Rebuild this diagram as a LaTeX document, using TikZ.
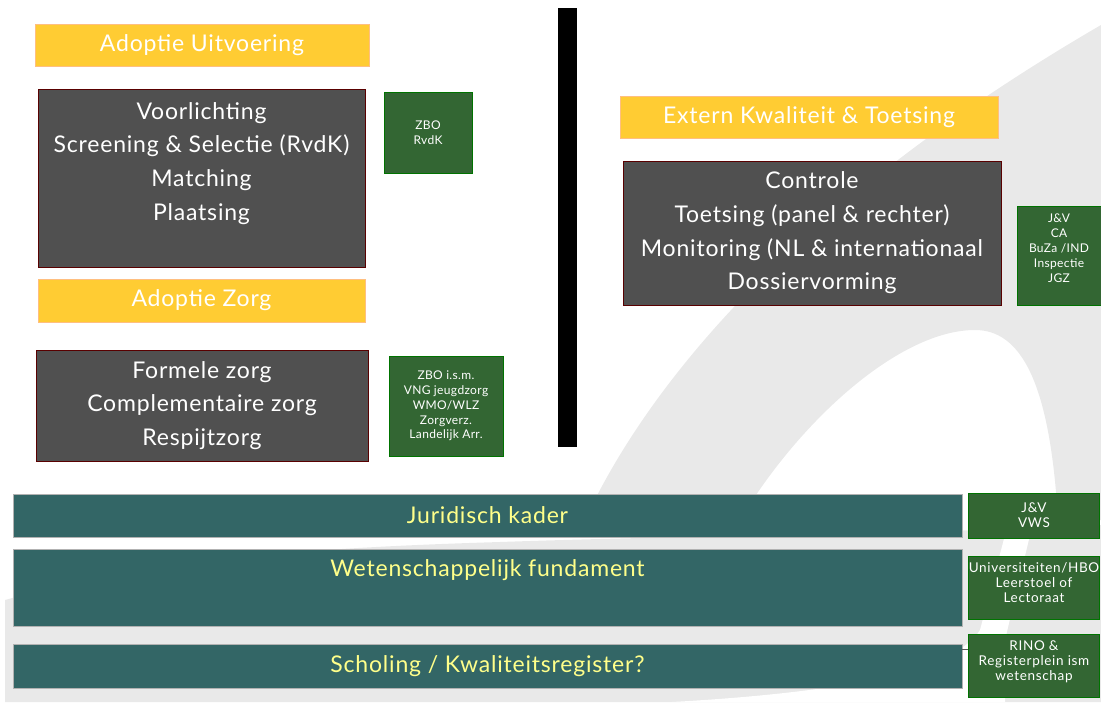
\documentclass[tikz,border=0pt]{standalone}
\usepackage{fontspec}
\setmainfont{Lato}
\usetikzlibrary{positioning}
\definecolor{kopgeel}{HTML}{FFCC33}
\definecolor{vakgrijs}{HTML}{505050}
\definecolor{instgroen}{HTML}{336633}
\definecolor{basisblauw}{HTML}{336666}
\definecolor{bartekst}{HTML}{FFFF8A}
\definecolor{achtergrond}{HTML}{E9E9E9}

\begin{document}
\begin{tikzpicture}[x=1pt, y=-1pt,
  kop/.style={fill=kopgeel, draw=orange!50, line width=0.4pt, text=white, inner sep=0pt,
    font=\fontsize{23}{25}\selectfont\addfontfeatures{LetterSpace=3.5}},
  vak/.style={fill=vakgrijs, draw=red!35!black, line width=0.6pt, text=white, align=center,
    inner sep=0pt, font=\fontsize{23}{33.7}\selectfont\addfontfeatures{LetterSpace=3.5}},
  instantie/.style={fill=instgroen, draw=green!45!black, line width=0.6pt, text=white, align=center,
    inner sep=0pt, font=\fontsize{12}{14.8}\selectfont\addfontfeatures{LetterSpace=3}},
  basisinst/.style={instantie, minimum width=131,
    font=\fontsize{13.5}{15}\selectfont\addfontfeatures{LetterSpace=5}},
  fundament/.style={fill=basisblauw, draw=gray!60, line width=0.4pt, text=bartekst, inner sep=0pt,
    minimum width=949, font=\fontsize{23}{25}\selectfont\addfontfeatures{LetterSpace=3.5}},
  node distance=6pt]

\useasboundingbox (0,0) rectangle (1101,702);

% achtergrond (logo)
\fill[achtergrond] (585,520) .. controls (650,380) and (800,200) .. (1101,25) -- (1101,520)
  -- (1058,520) .. controls (1050,380) and (1020,330) .. (975,330)
  .. controls (900,330) and (800,420) .. (740,520) -- cycle;
\fill[achtergrond] (5,702) -- (5,600) .. controls (150,560) and (300,548) .. (500,542)
  .. controls (700,535) and (900,535) .. (1101,525) -- (1101,702) -- cycle;
\fill[white] (672,702) .. controls (850,692) and (955,670) .. (980,630) -- (1005,535)
  -- (1030,535) -- (1005,640) -- (1005,702) -- cycle;

% links: uitvoering en zorg
\node[kop, minimum width=334, minimum height=42] (uitvoering) at (202,45) {Adoptie Uitvoering};
\node[vak, minimum width=327, minimum height=178] (werving) at (201.5,178)
  {Voorlichting\\Screening \& Selectie (RvdK)\\Matching\\Plaatsing\\\mbox{}};
\node[instantie, minimum width=88, minimum height=81] (rvdk) at (428,132.5) {ZBO\\RvdK};
\node[kop, minimum width=327, minimum height=43] (zorg) at (201.5,300.5) {Adoptie Zorg};
\node[vak, minimum width=332, minimum height=111] (zorgvormen) at (202,405.5)
  {Formele zorg\\Complementaire zorg\\Respijtzorg};
\node[instantie, minimum width=114, minimum height=100] (vng) at (446,406)
  {ZBO i.s.m.\\VNG jeugdzorg\\WMO/WLZ\\Zorgverz.\\Landelijk Arr.};

\fill (558,8) rectangle (577,447);

% rechts: toetsing
\node[kop, minimum width=378, minimum height=42] (extern) at (809,117) {Extern Kwaliteit \& Toetsing};
\node[vak, minimum width=378, minimum height=144] (controle) at (812,233)
  {Controle\\Toetsing (panel \& rechter)\\Monitoring (NL \& internationaal\\Dossiervorming};
\node[instantie, minimum width=84, minimum height=99] (jv) at (1059,255.5)
  {J\&V\\CA\\BuZa /IND\\Inspectie\\JGZ\\[0pt]};

% fundament
\node[fundament, minimum height=43] (juridisch) at (487.5,515.5) {Juridisch kader};
\node[fundament, minimum height=77, text depth=38pt] (wetenschap) at (487.5,587.5) {Wetenschappelijk fundament};
\node[fundament, minimum height=44] (scholing) at (487.5,666) {Scholing / Kwaliteitsregister?};
\node[basisinst, minimum height=45, right=of juridisch] (jvvws) {J\&V\\VWS};
\node[basisinst, minimum height=63, right=of wetenschap] (univ)
  {Universiteiten/HBO\\Leerstoel of\\Lectoraat\\[-5pt]};
\node[basisinst, minimum height=63, right=of scholing] (rino)
  {RINO \&\\Registerplein ism\\wetenschap\\[-5pt]};

\coordinate (s1) at ([yshift=-5pt]scholing.north east);
\draw[gray!70!black, line width=0.5pt] (s1) -- (s1 -| rino.west);
\end{tikzpicture}
\end{document}
